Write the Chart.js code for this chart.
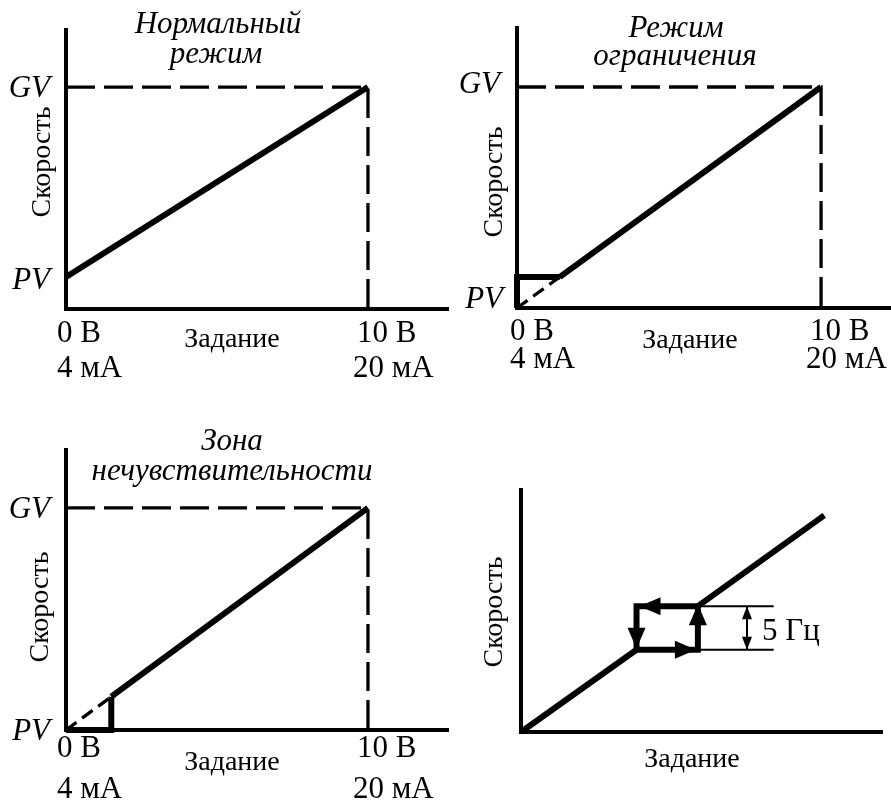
<!DOCTYPE html>
<html lang="ru">
<head>
<meta charset="UTF-8">
<title>Режимы задания скорости</title>
<script src="https://cdn.jsdelivr.net/npm/chart.js"></script>
<style>
    body { margin: 0; background: #fff; }
    .painel { position: absolute; }
</style>
</head>
<body>

<div class="painel" style="left:0px;top:0px"><canvas id="graf1" width="450" height="400"></canvas></div>
<div class="painel" style="left:445px;top:0px"><canvas id="graf2" width="446" height="400"></canvas></div>
<div class="painel" style="left:0px;top:400px"><canvas id="graf3" width="450" height="403"></canvas></div>
<div class="painel" style="left:445px;top:400px"><canvas id="graf4" width="446" height="403"></canvas></div>

<script>
// задание, В  (0 В = 4 мА, 10 В = 20 мА)
const zadanie = [0, 10];
const zadanieTicks = [['0 В', '4 мА'], ['10 В', '20 мА']];
const speedTicks = ['PV', 'GV'];

// нормальный режим: скорость от PV до GV
const normalSpeed = [14.4, 100];

// режим ограничения
const limitSpeed = [0, 100];
const limitLevel = 14;
const limitStart = 1.4;

// зона нечувствительности
const deadSpeed = [0, 100];
const deadZone = 1.5;
const deadJump = 15;

// гистерезис (задание / скорость, %)
const hystX = [0, 32, 49, 84];
const hystY = [0, 34, 52, 89.5];
const hystBand = '5 Гц';
const hystDimX = 62.6;
const hystDimEnd = 70;

const serif = '"Liberation Serif", "Times New Roman", serif';

function pts(xs, ys) {
    var out = [];
    for (var i = 0; i < xs.length; i++) out.push({ x: xs[i], y: ys[i] });
    return out;
}

function linha(data, w, dash) {
    return {
        data: data,
        showLine: true,
        borderColor: '#000',
        borderWidth: w,
        borderDash: dash || [],
        borderCapStyle: 'butt',
        borderJoinStyle: 'miter',
        pointRadius: 0,
        fill: false,
        tension: 0,
        clip: false
    };
}

function escrever(ctx, txt, x, y, tam, italico, align) {
    ctx.save();
    ctx.font = (italico ? 'italic ' : '') + tam + 'px ' + serif;
    ctx.fillStyle = '#000';
    ctx.textAlign = align || 'left';
    ctx.textBaseline = 'alphabetic';
    ctx.fillText(txt, x, y);
    ctx.restore();
}

function vertical(ctx, txt, x, y, tam) {
    ctx.save();
    ctx.translate(x, y);
    ctx.rotate(-Math.PI / 2);
    ctx.font = tam + 'px ' + serif;
    ctx.fillStyle = '#000';
    ctx.textAlign = 'center';
    ctx.textBaseline = 'alphabetic';
    ctx.fillText(txt, 0, 0);
    ctx.restore();
}

function seta(ctx, x, y, ang, comp, larg) {
    ctx.save();
    ctx.translate(x, y);
    ctx.rotate(ang);
    ctx.beginPath();
    ctx.moveTo(0, 0);
    ctx.lineTo(-comp, -larg);
    ctx.lineTo(-comp, larg);
    ctx.closePath();
    ctx.fillStyle = '#000';
    ctx.fill();
    ctx.restore();
}

function opcoes(xMax, yMax, pad) {
    var eixo = {
        type: 'linear',
        min: 0,
        ticks: { display: false },
        grid: { display: false, drawTicks: false },
        border: { display: true, color: '#000', width: 4 }
    };
    return {
        responsive: false,
        animation: false,
        events: [],
        layout: { padding: pad },
        plugins: { legend: { display: false }, tooltip: { enabled: false } },
        scales: {
            x: Object.assign({}, eixo, { max: xMax }),
            y: Object.assign({}, eixo, { max: yMax })
        }
    };
}

// рисует подписи GV/PV и 0 В / 10 В
function marcas(ctx, c, pv, gv, off) {
    var xs = c.scales.x, ys = c.scales.y, a = c.chartArea;
    escrever(ctx, speedTicks[1], off.gvx, ys.getPixelForValue(gv) + off.gvy, 31, true, 'right');
    escrever(ctx, speedTicks[0], off.pvx, ys.getPixelForValue(pv) + off.pvy, 31, true, 'right');
    var x0 = xs.getPixelForValue(zadanie[0]);
    var x1 = xs.getPixelForValue(zadanie[1]);
    escrever(ctx, zadanieTicks[0][0], x0 - off.l0, a.bottom + off.b1, 31);
    escrever(ctx, zadanieTicks[0][1], x0 - off.l0, a.bottom + off.b2, 31);
    escrever(ctx, zadanieTicks[1][0], x1 - 11, a.bottom + off.b1, 31);
    escrever(ctx, zadanieTicks[1][1], x1 - 15, a.bottom + off.b2, 31);
}

var dashGV = [29, 9];
var dashRamp = [13, 7];
var grossa = 6;

/* 1 - Нормальный режим */
var gv1 = normalSpeed[1];
new Chart(document.getElementById('graf1'), {
    type: 'scatter',
    data: {
        datasets: [
            linha(pts(zadanie, normalSpeed), grossa),
            linha([{ x: 0, y: gv1 }, { x: zadanie[1], y: gv1 }, { x: zadanie[1], y: 0 }], 3.3, dashGV)
        ]
    },
    options: opcoes(12.65, 125.7, { left: 66, top: 30, right: 2, bottom: 91 }),
    plugins: [{
        id: 'textos1',
        afterDraw: function (c) {
            var ctx = c.ctx;
            escrever(ctx, 'Нормальный', 218, 33, 31, true, 'center');
            escrever(ctx, 'режим', 216, 63, 31, true, 'center');
            marcas(ctx, c, normalSpeed[0], gv1, { gvx: 50, gvy: 10, pvx: 50, pvy: 12, l0: 9, b1: 33, b2: 68 });
            escrever(ctx, 'Задание', 232, 347, 28, false, 'center');
            vertical(ctx, 'Скорость', 50, 162, 28);
        }
    }]
});

/* 2 - Режим ограничения */
var gv2 = limitSpeed[1];
new Chart(document.getElementById('graf2'), {
    type: 'scatter',
    data: {
        datasets: [
            linha([{ x: 0, y: limitSpeed[0] }, { x: limitStart, y: limitLevel }], 3.3, dashRamp),
            linha([{ x: limitStart, y: limitLevel }, { x: zadanie[1], y: limitSpeed[1] }], grossa),
            linha([{ x: 0, y: 0 }, { x: 0, y: limitLevel }, { x: limitStart, y: limitLevel }], grossa),
            linha([{ x: 0, y: gv2 }, { x: zadanie[1], y: gv2 }, { x: zadanie[1], y: 0 }], 3.3, dashGV)
        ]
    },
    options: opcoes(12.3, 126.7, { left: 72, top: 28, right: 0, bottom: 92 }),
    plugins: [{
        id: 'textos2',
        afterDraw: function (c) {
            var ctx = c.ctx;
            escrever(ctx, 'Режим', 231, 37, 31, true, 'center');
            escrever(ctx, 'ограничения', 230, 65, 31, true, 'center');
            marcas(ctx, c, limitSpeed[0], gv2, { gvx: 55, gvy: 6, pvx: 58, pvy: 0, l0: 7, b1: 32, b2: 60 });
            escrever(ctx, 'Задание', 245, 348, 28, false, 'center');
            vertical(ctx, 'Скорость', 57, 182, 28);
        }
    }]
});

/* 3 - Зона нечувствительности */
var gv3 = deadSpeed[1];
new Chart(document.getElementById('graf3'), {
    type: 'scatter',
    data: {
        datasets: [
            linha([{ x: 0, y: deadSpeed[0] }, { x: deadZone, y: deadJump }], 3.3, dashRamp),
            linha([{ x: deadZone, y: deadJump }, { x: zadanie[1], y: deadSpeed[1] }], grossa),
            linha([{ x: 0, y: 0 }, { x: deadZone, y: 0 }, { x: deadZone, y: deadJump }], grossa),
            linha([{ x: 0, y: gv3 }, { x: zadanie[1], y: gv3 }, { x: zadanie[1], y: 0 }], 3.3, dashGV)
        ]
    },
    options: opcoes(12.65, 126.1, { left: 66, top: 50, right: 2, bottom: 73 }),
    plugins: [{
        id: 'textos3',
        afterDraw: function (c) {
            var ctx = c.ctx;
            escrever(ctx, 'Зона', 232, 50, 31, true, 'center');
            escrever(ctx, 'нечувствительности', 232, 80, 31, true, 'center');
            marcas(ctx, c, deadSpeed[0], gv3, { gvx: 50, gvy: 10, pvx: 50, pvy: 10, l0: 9, b1: 27, b2: 68 });
            escrever(ctx, 'Задание', 232, 370, 28, false, 'center');
            vertical(ctx, 'Скорость', 48, 207, 28);
        }
    }]
});

/* 4 - Гистерезис */
var xa = hystX[1], xb = hystX[2], ya = hystY[1], yb = hystY[2];
new Chart(document.getElementById('graf4'), {
    type: 'scatter',
    data: {
        datasets: [
            linha(pts(hystX.slice(0, 2), hystY.slice(0, 2)), grossa),
            linha([{ x: xa, y: ya }, { x: xb, y: ya }, { x: xb, y: yb }, { x: xa, y: yb }, { x: xa, y: ya }], grossa),
            linha(pts(hystX.slice(2), hystY.slice(2)), grossa),
            linha([{ x: xb, y: ya }, { x: hystDimEnd, y: ya }], 2),
            linha([{ x: xb, y: yb }, { x: hystDimEnd, y: yb }], 2),
            linha([{ x: hystDimX, y: ya }, { x: hystDimX, y: yb }], 2)
        ]
    },
    options: opcoes(100, 100, { left: 76, top: 90, right: 9, bottom: 71 }),
    plugins: [{
        id: 'textos4',
        afterDraw: function (c) {
            var ctx = c.ctx, xs = c.scales.x, ys = c.scales.y;
            var pxa = xs.getPixelForValue(xa), pxb = xs.getPixelForValue(xb);
            var pya = ys.getPixelForValue(ya), pyb = ys.getPixelForValue(yb);
            // стрелки петли
            seta(ctx, pxb - 2, pya, 0, 21, 9);
            seta(ctx, pxb, pyb - 2, -Math.PI / 2, 21, 9);
            seta(ctx, pxa + 3, pyb, Math.PI, 21, 9);
            seta(ctx, pxa, pya - 1, Math.PI / 2, 21, 9);
            // размерная стрелка
            var pd = xs.getPixelForValue(hystDimX);
            seta(ctx, pd, pyb, -Math.PI / 2, 13, 5);
            seta(ctx, pd, pya, Math.PI / 2, 13, 5);
            escrever(ctx, hystBand, pd + 15, (pya + pyb) / 2 + 12, 31);
            escrever(ctx, 'Задание', 247, 367, 28, false, 'center');
            vertical(ctx, 'Скорость', 57, 212, 28);
        }
    }]
});
</script>
</body>
</html>
